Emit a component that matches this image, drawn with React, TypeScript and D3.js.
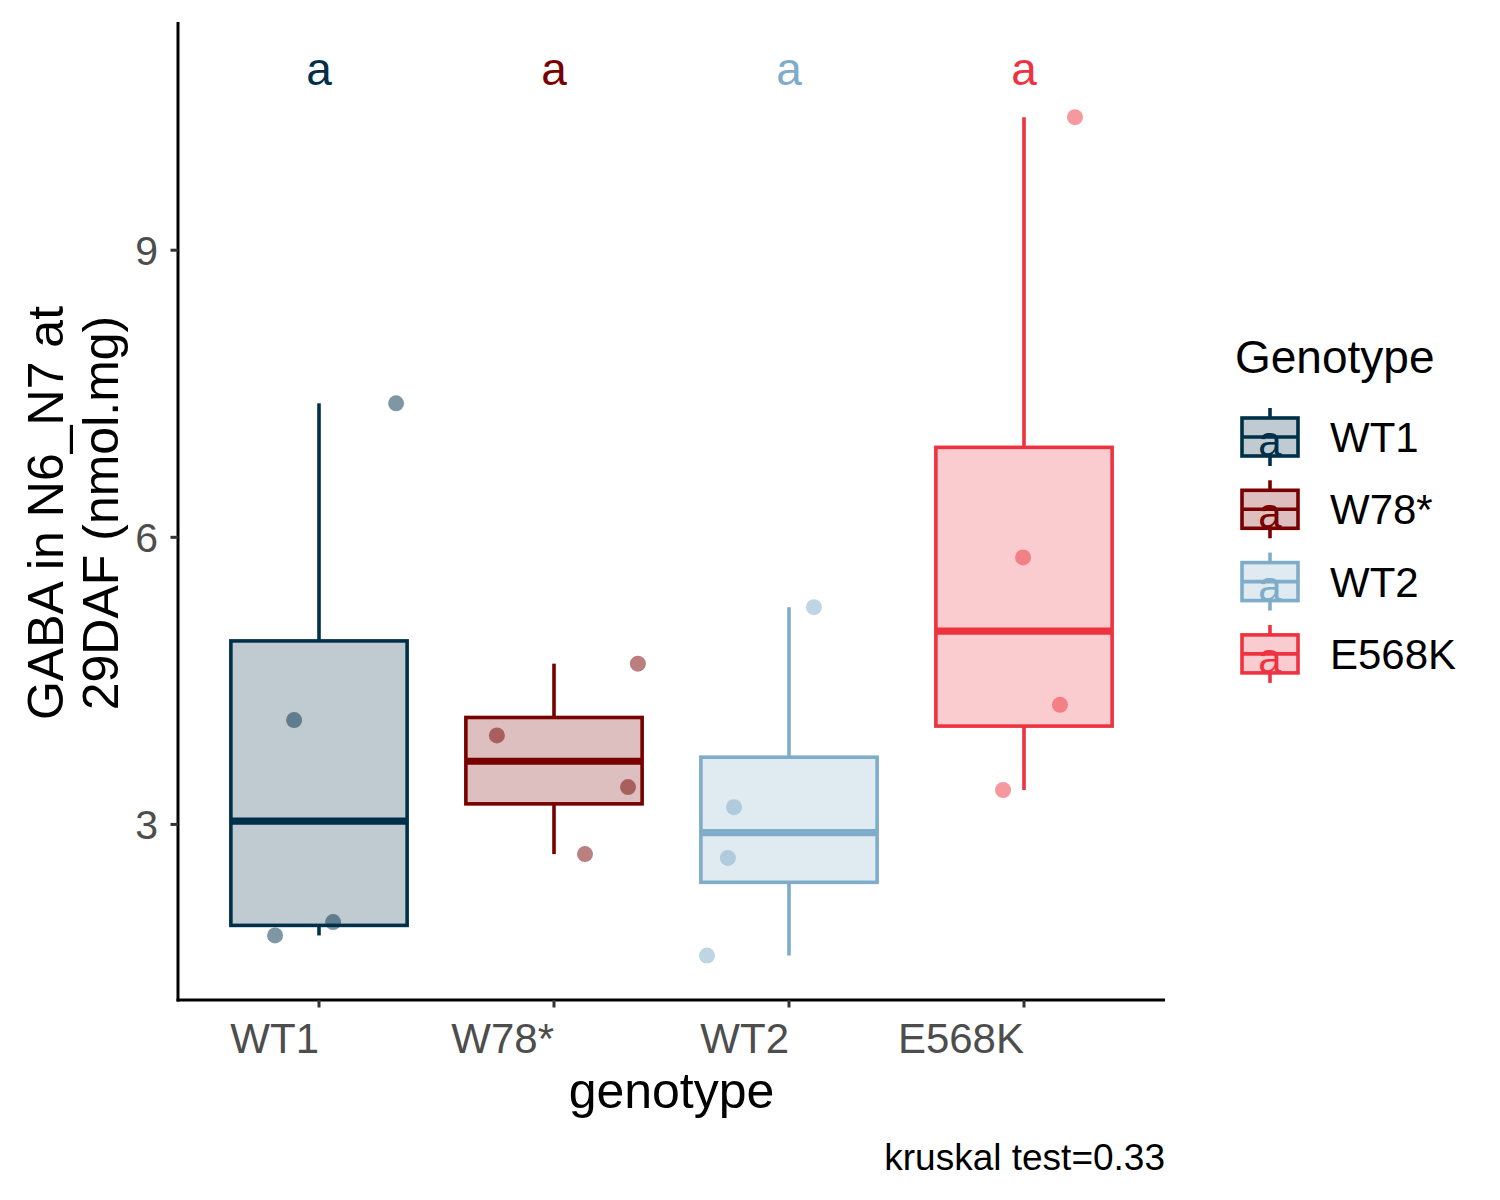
import React from "react";
import * as d3 from "d3";

// genotype groups, in plotting order
const genotypes = ["WT1", "W78*", "WT2", "E568K"];
const colors = ["#003049", "#780000", "#7FACC8", "#EE3340"];

// GABA values per genotype (nmol.mg)
const wt1Values = [7.4, 4.09, 1.98, 1.84];
const w78Values = [4.68, 3.93, 3.39, 2.69];
const wt2Values = [5.27, 3.18, 2.65, 1.63];
const e568kValues = [10.39, 5.79, 4.25, 3.36];

// horizontal jitter of each point, as a fraction of the category step
const wt1Jitter = [0.328, -0.106, 0.06, -0.187];
const w78Jitter = [0.357, -0.243, 0.315, 0.132];
const wt2Jitter = [0.106, -0.234, -0.26, -0.349];
const e568kJitter = [0.217, -0.004, 0.153, -0.089];

// compact letter display
const letters = ["a", "a", "a", "a"];
const letterY = 10.92;

const yTicks = [3, 6, 9];
const caption = "kruskal test=0.33";

const groupValues = [wt1Values, w78Values, wt2Values, e568kValues];
const groupJitter = [wt1Jitter, w78Jitter, wt2Jitter, e568kJitter];

const font = "'Liberation Sans', Arial, sans-serif";

const width = 1500;
const height = 1200;
const panel = { left: 178, right: 1165, top: 22, bottom: 1000 };

function boxStats(values: number[]) {
  const s = [...values].sort(d3.ascending);
  const q1 = d3.quantile(s, 0.25) as number;
  const med = d3.quantile(s, 0.5) as number;
  const q3 = d3.quantile(s, 0.75) as number;
  const iqr = q3 - q1;
  const lo = d3.min(s.filter((v) => v >= q1 - 1.5 * iqr)) as number;
  const hi = d3.max(s.filter((v) => v <= q3 + 1.5 * iqr)) as number;
  return { q1, med, q3, lo, hi };
}

const App: React.FC = () => {
  const all = groupValues.flat().concat([letterY]);
  const [minV, maxV] = d3.extent(all) as [number, number];
  const pad = (maxV - minV) * 0.05;

  const y = d3
    .scaleLinear()
    .domain([minV - pad, maxV + pad])
    .range([panel.bottom, panel.top]);

  const x = d3
    .scalePoint<string>()
    .domain(genotypes)
    .range([panel.left, panel.right])
    .padding(0.6);

  const step = x.step();
  const boxW = step * 0.75;
  const lw = 3.6;

  const stats = groupValues.map(boxStats);

  // legend layout
  const legX = 1242;
  const legKeyW = 56;
  const legRow0 = 437;
  const legStep = 72.3;

  return (
    <svg
      width={width}
      height={height}
      style={{ display: "block", position: "absolute", left: 0, top: 0, background: "#fff" }}
      fontFamily={font}
    >
      {/* boxes */}
      {genotypes.map((g, i) => {
        const cx = x(g) as number;
        const s = stats[i];
        const c = colors[i];
        return (
          <g key={g}>
            <line x1={cx} x2={cx} y1={y(s.hi)} y2={y(s.q3)} stroke={c} strokeWidth={lw} />
            <line x1={cx} x2={cx} y1={y(s.q1)} y2={y(s.lo)} stroke={c} strokeWidth={lw} />
            <rect
              x={cx - boxW / 2}
              y={y(s.q3)}
              width={boxW}
              height={y(s.q1) - y(s.q3)}
              fill={c}
              fillOpacity={0.25}
              stroke={c}
              strokeWidth={lw}
            />
            <line
              x1={cx - boxW / 2}
              x2={cx + boxW / 2}
              y1={y(s.med)}
              y2={y(s.med)}
              stroke={c}
              strokeWidth={lw * 2}
            />
          </g>
        );
      })}

      {/* jittered points */}
      {genotypes.map((g, i) =>
        groupValues[i].map((v, j) => (
          <circle
            key={`${g}-${j}`}
            cx={(x(g) as number) + groupJitter[i][j] * step}
            cy={y(v)}
            r={8}
            fill={colors[i]}
            fillOpacity={0.5}
          />
        ))
      )}

      {/* letters */}
      {genotypes.map((g, i) => (
        <text
          key={`l-${g}`}
          x={x(g) as number}
          y={y(letterY)}
          dy="0.4em"
          textAnchor="middle"
          fontSize={46}
          fill={colors[i]}
        >
          {letters[i]}
        </text>
      ))}

      {/* axes */}
      <line x1={panel.left} x2={panel.left} y1={panel.top} y2={panel.bottom + 1.5} stroke="#000" strokeWidth={3} />
      <line x1={panel.left - 1.5} x2={panel.right} y1={panel.bottom} y2={panel.bottom} stroke="#000" strokeWidth={3} />

      {yTicks.map((t) => (
        <g key={`yt-${t}`}>
          <line x1={panel.left - 7.5} x2={panel.left} y1={y(t)} y2={y(t)} stroke="#333" strokeWidth={3} />
          <text x={panel.left - 20} y={y(t) + 14.5} textAnchor="end" fontSize={41} fill="#4D4D4D">
            {t}
          </text>
        </g>
      ))}

      {genotypes.map((g) => (
        <g key={`xt-${g}`}>
          <line x1={x(g) as number} x2={x(g) as number} y1={panel.bottom} y2={panel.bottom + 7.5} stroke="#333" strokeWidth={3} />
          <text x={(x(g) as number)} y={1053} textAnchor="end" fontSize={42} fill="#4D4D4D">
            {g}
          </text>
        </g>
      ))}

      {/* axis titles */}
      <text x={(panel.left + panel.right) / 2} y={1108} textAnchor="middle" fontSize={50} fill="#000">
        genotype
      </text>
      <g transform={`translate(0, ${(panel.top + panel.bottom) / 2 + 2}) rotate(-90)`}>
        <text x={0} y={63} textAnchor="middle" fontSize={50} fill="#000">
          GABA in N6_N7 at
        </text>
        <text x={0} y={118} textAnchor="middle" fontSize={50} fill="#000">
          29DAF (nmol.mg)
        </text>
      </g>

      {/* caption */}
      <text x={panel.right} y={1170} textAnchor="end" fontSize={37} fill="#000">
        {caption}
      </text>

      {/* legend */}
      <text x={1235} y={373} fontSize={46} fill="#000">
        Genotype
      </text>
      {genotypes.map((g, i) => {
        const cy = legRow0 + i * legStep;
        const c = colors[i];
        const cx = legX + legKeyW / 2;
        return (
          <g key={`leg-${g}`}>
            <line x1={cx} x2={cx} y1={cy - 29} y2={cy + 29} stroke={c} strokeWidth={lw} />
            <rect x={legX} y={cy - 19} width={legKeyW} height={38} fill="#fff" />
            <rect
              x={legX}
              y={cy - 19}
              width={legKeyW}
              height={38}
              fill={c}
              fillOpacity={0.25}
              stroke={c}
              strokeWidth={lw}
            />
            <line x1={legX} x2={legX + legKeyW} y1={cy} y2={cy} stroke={c} strokeWidth={lw} />
            <text x={cx} y={cy} dy="0.45em" textAnchor="middle" fontSize={42} fill={c}>
              {letters[i]}
            </text>
            <text x={1330} y={cy + 15} fontSize={42} fill="#000">
              {g}
            </text>
          </g>
        );
      })}
    </svg>
  );
};

export default App;
